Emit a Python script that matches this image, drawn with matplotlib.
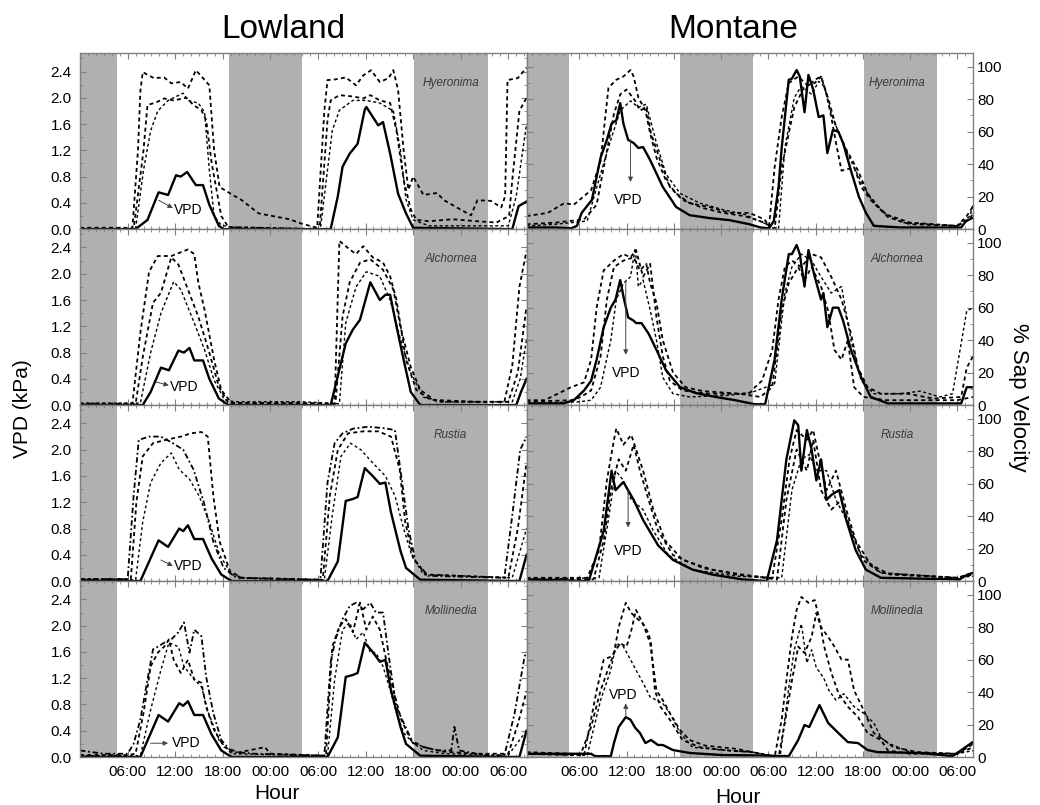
import numpy as np
import matplotlib
matplotlib.use("Agg")
import matplotlib.pyplot as plt
from matplotlib.ticker import MultipleLocator

plt.rcParams['font.family'] = ['Liberation Sans', 'DejaVu Sans']

# x in hours from start of record, y in kPa (lowland) or % (montane)
hour_ticks = [6, 12, 18, 24, 30, 36, 42, 48, 54]
hour_labels = ["06:00", "12:00", "18:00", "00:00", "06:00", "12:00", "18:00", "00:00", "06:00"]
nights = [(-1, 4.7), (18.8, 28.0), (42.1, 51.4)]
species = ["Hyeronima", "Alchornea", "Rustia", "Mollinedia"]

# ---------------- Lowland ----------------
low_hye_vpd = [(0,0),(7,0),(8.5,0.14),(9.9,0.56),(11.1,0.52),(12.1,0.82),(12.7,0.8),(13.5,0.87),(14.6,0.67),(15.5,0.67),(16.3,0.37),(17.5,0.05),(18.1,0),(31.6,0),(32.5,0.5),(33.1,0.95),(34.0,1.15),(35.0,1.3),(35.9,1.82),(36.1,1.86),(37.6,1.58),(38.2,1.63),(39.1,1.15),(40.1,0.54),(41.1,0.24),(42.0,0.02),(54.5,0),(55.3,0.35),(56.3,0.42)]
low_hye_s1 = [(0,0.02),(6.6,0.02),(7.3,1.2),(7.6,2.1),(7.9,2.39),(9.3,2.3),(10.6,2.31),(11.5,2.22),(12.7,2.24),(13.6,2.14),(14.6,2.42),(15.5,2.3),(16.3,2.19),(16.9,1.2),(17.6,0.64),(18.7,0.56),(20.4,0.44),(22.5,0.24),(26.4,0.15),(28.0,0.08),(29.9,0.02),(30.8,1.8),(31.2,2.27),(32.2,2.28),(33.5,2.31),(34.8,2.19),(35.7,2.34),(36.7,2.42),(37.8,2.24),(38.9,2.3),(39.5,2.42),(40.1,2.12),(40.8,1.2),(41.4,0.6),(42.0,0.8),(43.3,0.52),(45.0,0.55),(45.9,0.44),(47.5,0.33),(49.3,0.21),(50.1,0.44),(51.8,0.43),(53.1,0.33),(53.6,0.5),(53.9,2.27),(55.2,2.3),(56.3,2.46)]
low_hye_s2 = [(0,0.0),(6.75,0.0),(8.0,1.2),(8.5,1.89),(9.6,1.93),(10.6,1.99),(11.8,1.96),(13.4,2.0),(14.3,1.89),(15.3,1.81),(15.9,1.66),(16.6,1.0),(17.2,0.6),(17.8,0.2),(18.7,0.03),(30.2,0.0),(31.2,1.66),(31.6,1.96),(32.7,2.04),(34.4,2.02),(35.7,1.99),(36.6,2.04),(37.8,1.96),(39.1,1.92),(39.9,1.5),(40.8,0.75),(41.7,0.3),(42.4,0.14),(44,0.12),(47,0.15),(50,0.12),(52.5,0.1),(54.1,0.2),(54.5,0.75),(55.4,1.8),(56.3,2.0)]
low_hye_s3 = [(0,0.0),(7.0,0.0),(8.0,0.9),(8.9,1.5),(9.8,1.8),(11.1,1.96),(13.0,2.07),(13.6,1.96),(14.9,1.92),(15.7,1.78),(16.3,0.9),(16.9,0.2),(17.8,0.06),(19,0.03),(30.3,0.0),(31.2,0.9),(31.8,1.5),(32.7,1.81),(34.4,1.96),(36.1,1.96),(37.8,1.92),(39.5,1.8),(40.4,1.2),(41.1,0.45),(42.0,0.14),(44,0.05),(54.0,0.05),(55.0,0.5),(56.3,1.6)]

low_alc_vpd = [(0,0),(7.9,0),(8.9,0.2),(10.2,0.57),(11.2,0.53),(12.4,0.83),(13.1,0.8),(13.8,0.87),(14.4,0.68),(15.5,0.68),(16.3,0.4),(17.5,0.1),(18.7,0),(31.6,0),(33.5,0.94),(34.4,1.15),(35.3,1.3),(36.6,1.87),(37.8,1.6),(38.5,1.68),(39.1,1.68),(39.9,1.2),(40.8,0.69),(41.7,0.2),(42.9,0),(55.0,0),(55.6,0.2),(56.3,0.4)]
low_alc_s1 = [(0,0.02),(6.6,0.02),(7.6,1.1),(8.7,2.03),(9.8,2.27),(11.5,2.27),(13.6,2.37),(14.4,2.3),(14.9,1.87),(15.7,1.45),(16.9,0.69),(17.8,0.23),(19.1,0.03),(28,0.03),(32.1,0.02),(32.7,2.5),(34.0,2.37),(34.8,2.3),(35.7,2.42),(36.9,2.25),(38.2,2.17),(39.1,1.96),(39.9,1.6),(41.1,0.69),(42.4,0.23),(44.2,0.08),(50,0.05),(53.5,0.05),(54.5,0.6),(55.4,1.8),(56.3,2.35)]
low_alc_s2 = [(0,0.02),(7.0,0.02),(7.9,0.73),(9.2,1.56),(10.2,1.71),(11.5,2.25),(12.4,2.14),(13.6,1.76),(14.9,1.35),(16.2,0.84),(17.5,0.28),(18.7,0.03),(32.2,0.02),(33.1,1.35),(34.0,1.87),(35.3,2.17),(36.6,2.22),(38.2,2.06),(39.5,1.76),(40.4,1.19),(41.7,0.58),(42.9,0.23),(45.0,0.05),(54,0.05),(55.2,0.5),(56.3,1.5)]
low_alc_s3 = [(0,0.03),(7.6,0.03),(8.9,0.8),(10.2,1.4),(11.8,1.88),(12.7,1.76),(14.4,1.25),(15.7,0.84),(16.9,0.38),(18.2,0.08),(19.5,0.05),(28,0.05),(32.7,0.02),(33.5,1.25),(34.8,1.8),(36.1,2.03),(37.8,1.96),(39.1,1.6),(40.4,1.0),(41.7,0.49),(43.3,0.12),(46,0.05),(54.5,0.05),(55.5,0.4),(56.3,1.0)]

low_rus_vpd = [(0,0),(7.6,0),(9.9,0.62),(11.1,0.52),(12.5,0.8),(13.0,0.76),(13.6,0.85),(14.4,0.64),(15.5,0.64),(16.6,0.34),(17.8,0.1),(19.1,0),(31.2,0),(32.5,0.3),(33.5,1.22),(34.4,1.25),(35.0,1.28),(35.9,1.72),(36.9,1.6),(37.8,1.48),(38.5,1.5),(39.2,1.05),(40.4,0.46),(41.1,0.2),(42.9,0.02),(55.4,0),(56.3,0.4)]
low_rus_s1 = [(0,0.03),(6.0,0.03),(6.75,1.3),(7.4,2.15),(8.7,2.2),(10.2,2.2),(11.7,2.1),(13.0,2.0),(14.3,1.7),(15.6,1.2),(16.8,0.6),(18.1,0.2),(19.7,0.05),(30.3,0.02),(31.2,1.5),(32.1,2.1),(33.1,2.25),(34.4,2.32),(36.3,2.35),(38.2,2.33),(39.7,2.3),(40.5,1.6),(41.4,0.8),(42.3,0.3),(43.9,0.08),(53.5,0.05),(54.5,1.0),(55.5,2.0),(56.3,2.2)]
low_rus_s2 = [(0,0.03),(6.4,0.03),(7.1,1.2),(7.9,1.9),(9.2,2.1),(10.8,2.15),(12.7,2.2),(14.0,2.25),(15.3,2.27),(16.1,2.2),(16.8,1.3),(17.6,0.6),(18.9,0.15),(20.4,0.05),(30.6,0.02),(31.5,1.3),(32.5,2.0),(33.8,2.25),(35.7,2.28),(37.6,2.28),(39.2,2.2),(40.3,1.7),(41.0,0.9),(42.0,0.35),(43.6,0.1),(54,0.05),(55.2,0.8),(56.3,1.8)]
low_rus_s3 = [(0,0.02),(7.0,0.02),(7.9,0.9),(8.9,1.5),(10.2,1.8),(11.5,1.95),(12.5,1.7),(13.8,1.55),(15.0,1.3),(16.3,0.9),(17.6,0.4),(19.1,0.1),(21,0.04),(30.8,0.02),(31.8,1.0),(32.9,1.9),(34.1,2.1),(35.4,2.0),(36.9,1.8),(38.5,1.6),(39.7,1.3),(40.8,0.8),(41.8,0.4),(43.3,0.1),(54.5,0.05),(56.3,0.8)]

low_mol_vpd = [(0,0),(7.6,0),(9.9,0.64),(11.1,0.54),(12.5,0.82),(13.0,0.78),(13.6,0.85),(14.4,0.64),(15.5,0.64),(16.6,0.34),(17.8,0.1),(19.1,0),(31.2,0),(32.5,0.3),(33.5,1.22),(34.4,1.25),(35.0,1.28),(35.9,1.74),(36.9,1.6),(37.8,1.45),(38.5,1.48),(39.2,1.02),(40.4,0.46),(41.1,0.2),(42.9,0.02),(55.4,0),(56.3,0.4)]
low_mol_s1 = [(0,0.1),(3,0.05),(6.0,0.05),(6.75,0.2),(7.6,0.57),(8.5,1.18),(9.2,1.64),(9.8,1.68),(10.6,1.74),(11.5,1.79),(12.4,1.9),(13.1,2.05),(13.8,1.59),(14.4,1.94),(15.3,1.84),(15.9,1.22),(16.8,0.67),(17.8,0.26),(19.1,0.08),(22,0.05),(30.8,0.02),(31.6,1.44),(32.2,1.79),(33.1,2.1),(34.0,2.3),(34.8,2.35),(35.7,2.25),(36.6,2.35),(37.3,2.2),(38.2,2.2),(39.1,1.38),(39.9,0.76),(40.8,0.52),(42.0,0.21),(43.7,0.14),(45.0,0.1),(46.8,0.1),(47.2,0.46),(47.8,0.1),(51.3,0.02),(53.5,0.02),(54.8,0.67),(56.05,1.53),(56.3,1.6)]
low_mol_s2 = [(0,0.03),(6,0.03),(7.0,0.05),(8.0,0.67),(8.9,1.38),(9.8,1.59),(10.6,1.68),(11.2,1.79),(11.8,1.48),(12.7,1.28),(13.6,1.48),(14.4,1.18),(15.3,1.13),(15.9,0.76),(16.9,0.41),(18.2,0.15),(20,0.07),(23.3,0.15),(24,0.05),(31.0,0.02),(31.8,1.68),(32.7,1.99),(33.5,2.1),(34.4,1.9),(35.3,2.35),(36.1,1.94),(36.9,2.14),(37.8,1.94),(38.6,1.48),(39.5,1.02),(40.5,0.57),(41.7,0.26),(43.3,0.15),(46,0.08),(50,0.05),(54,0.05),(55.2,0.5),(56.3,1.0)]
low_mol_s3 = [(0,0.02),(7.6,0.02),(8.9,0.72),(10.2,1.33),(11.2,1.74),(12.4,1.68),(13.1,1.38),(14.4,1.18),(15.3,1.07),(16.2,0.67),(17.5,0.26),(19.1,0.05),(31.2,0.02),(32.1,1.18),(33.1,1.94),(34.0,2.05),(34.8,1.79),(35.7,1.9),(36.6,1.59),(37.3,1.59),(38.2,1.38),(39.1,1.02),(39.9,0.67),(40.8,0.37),(42.0,0.21),(43.3,0.1),(46,0.05),(54,0.03),(56.3,0.4)]

# ---------------- Montane ----------------
mon_hye_vpd = [(-0.7,1),(3,1),(5,0.5),(5.7,2),(6.3,10),(7.6,18),(8.7,44),(9.5,55),(10.1,65),(10.7,67),(11.2,77.6),(11.6,65),(12.2,55),(12.9,53),(13.5,50),(14.1,50.5),(15.0,42.5),(16.6,26),(18.3,13.6),(20.0,8.6),(22.5,6.8),(25.1,5.5),(27.6,3),(29,1),(30.1,0.5),(30.7,5),(31.3,26),(31.7,50),(32.6,92),(33.0,92.7),(33.6,98),(34.0,94),(34.6,72),(35.1,95),(35.7,86),(36.4,69),(37.0,70),(37.5,46.8),(38.2,61),(38.9,60),(39.5,53),(40.5,36),(41.5,20),(42.4,10),(43.4,2),(46.8,1),(54.5,1),(55.1,5),(56,7)]
mon_hye_s1 = [(-0.7,8),(2,10),(4.1,16),(5.3,15),(7.5,24),(8.7,42),(9.7,87),(10.7,92),(11.6,94),(12.5,98),(12.9,94),(13.5,81),(14.4,73),(15.0,59),(15.8,44),(17.0,30),(18.3,22),(20.0,16),(22.5,13.6),(25.1,10),(27.6,10),(29.5,6),(30.1,2),(30.8,38),(31.7,69),(32.6,90),(33.8,94),(35.1,88),(35.9,92),(36.7,94),(37.4,83),(38.0,69),(38.6,53),(39.3,36),(40.9,38),(41.8,26),(43.0,18),(45.2,7.4),(48,3),(54,2),(55.2,8),(56,14)]
mon_hye_s2 = [(-0.7,3),(3,4),(6.6,6),(8.2,15),(9.1,38),(10.4,71),(11.2,83),(12.0,86),(13.1,79),(13.7,73),(14.5,75),(15.1,59),(16.3,42),(17.5,26),(19.1,18),(21.7,13),(24.2,10),(27,8),(29.5,4),(30.8,0),(31.7,38),(32.6,59),(33.3,75),(34.6,88),(35.9,90),(36.7,94),(37.7,79),(38.6,63),(39.9,49),(41.4,36),(42.6,22),(44.3,12),(45.2,8.6),(48,4),(54,2),(55.6,6),(56,10)]
mon_hye_s3 = [(-0.7,2),(3,3),(7,5),(8.7,34),(10.0,55),(11.2,73),(12.5,79),(13.5,75),(14.5,77),(15.8,53),(17.0,34),(18.8,22),(21.3,16),(24.2,12),(27,9),(29.8,3),(31.3,0),(32.1,50),(33.3,81),(34.2,88),(35.5,83),(36.4,91),(37.1,88),(38.0,71),(39.3,55),(40.5,42),(42.1,26),(43.4,16),(44.7,10),(47,4),(54,2),(55.6,8),(56,15)]

mon_alc_vpd = [(-0.7,1),(4,1),(5.3,3),(6.6,9),(7.5,15),(8.2,28),(9.1,48),(10.0,60),(10.6,65),(11.2,77),(11.6,67),(12.2,54),(12.9,52),(13.2,50.5),(13.9,50.5),(14.8,44),(15.8,34),(17.0,21.5),(18.8,11),(20.8,7.4),(23.3,5),(25.8,3),(28.3,0.5),(29.6,0.5),(30.8,28),(31.7,65),(32.6,93),(33.0,93),(33.6,98.6),(34.0,93),(34.6,73),(35.1,95.5),(35.9,79),(36.7,65),(37.0,69),(37.5,48),(38.2,60),(38.9,60),(39.5,52),(40.5,34),(41.8,17),(43.0,5),(45.2,1),(54.5,1),(55.2,11),(56,11)]
mon_alc_s1 = [(-0.7,3),(1.6,3),(4.95,11),(6.6,14),(7.5,28),(8.2,60),(9.1,83),(10.4,89),(11.6,93),(12.5,91),(13.2,95.5),(14.1,79),(15.0,87),(15.8,54),(16.6,30),(17.5,15),(19.1,9),(22.5,7),(27.6,7),(28.3,11),(29.2,15),(30.5,34),(31.3,65),(32.1,85),(33.0,89),(34.2,85),(35.5,93),(36.7,91),(38.0,79),(39.3,65),(40.5,44),(41.4,23),(42.6,11),(44.3,7),(47.7,7),(51.0,4),(54.5,5),(55.2,23),(56,30)]
mon_alc_s2 = [(-0.7,2),(5,3),(6.2,5),(7.5,9),(8.7,30),(9.5,65),(10.4,85),(11.6,89),(12.9,91),(13.7,83),(14.5,87),(15.0,75),(15.8,63),(16.6,40),(17.9,20),(19.5,11),(21.7,8.6),(26.3,7),(29,5),(30.5,11),(31.7,58),(32.6,75),(33.8,85),(34.6,77),(35.5,85),(36.7,73),(37.6,58),(38.4,34),(39.3,28),(40.1,40),(40.9,11),(42.1,5),(45,3),(54,3),(56,5)]
mon_alc_s3 = [(-0.7,1),(6,2),(7.5,3),(8.7,11),(10.0,40),(10.7,65),(11.6,75),(12.5,79),(13.1,96.6),(13.5,73),(14.1,77),(15.0,58.5),(15.8,40),(16.6,17),(17.9,7),(20,5),(25,6),(28,8),(30.8,13),(32.1,69),(33.0,85),(34.2,93),(35.5,89),(36.7,79),(38.0,69),(39.3,73),(40.5,40),(41.8,15),(43.4,7),(46.8,7),(49.3,8.6),(51.8,5),(53.4,7),(55.2,58),(56,60)]

mon_rus_vpd = [(-0.7,1),(7.2,0),(9.1,31),(10.1,68),(10.6,56),(11.6,61),(12.9,50),(14.1,37.6),(16.0,22),(17.9,13),(20.4,7),(22.9,4),(26.7,1),(29.8,0),(31.1,25),(32.3,75),(33.3,99),(33.8,96),(34.2,68),(34.9,93),(35.5,81),(36.1,62),(36.7,75),(37.4,50),(38.0,53),(39.0,56),(39.9,37.6),(41.1,19),(42.4,7),(44.3,2),(54.3,1),(55.3,4),(56,5)]
mon_rus_s1 = [(-0.7,2),(7,2),(8.5,19),(9.5,62),(10.4,87),(10.7,94),(11.6,84),(12.6,90),(14.1,68),(15.4,44),(16.9,25),(19.1,13),(22.9,7),(26.7,4),(30,2),(30.5,2),(31.7,38),(32.7,75),(33.6,93),(34.9,87),(35.7,93),(36.5,75),(37.4,56),(38.6,68),(39.9,44),(41.1,25),(43.0,10),(45.5,4),(54,2),(56,4)]
mon_rus_s2 = [(-0.7,1),(7.8,1),(9.1,25),(10.0,56),(11.0,75),(11.9,68),(12.9,84),(13.7,68),(14.8,50),(16.0,31),(17.9,16),(21.7,8),(26,4),(31.1,1),(32.3,50),(33.6,81),(34.9,68),(35.7,87),(36.7,56),(38.0,44),(39.3,50),(40.5,31),(42.0,13),(44.3,5),(54,2),(56,5)]
mon_rus_s3 = [(-0.7,1),(8.5,2),(9.7,38),(10.6,68),(11.6,62),(12.6,50),(14.1,44),(15.4,31),(17.3,16),(20.4,7),(26,3),(31.7,2),(33.0,56),(34.2,75),(35.2,78),(36.1,68),(37.4,68),(38.6,50),(40.3,34),(41.8,16),(44.3,5),(54,2),(56,3)]

mon_mol_vpd = [(-0.7,2),(7.5,2),(8,0.5),(10.0,0.5),(10.4,8.6),(11.0,18.5),(11.9,24.6),(12.5,23),(13.1,18),(13.7,14.8),(14.4,8.6),(15.1,10.5),(16.0,7.4),(16.6,7.4),(17.9,4.3),(20.0,2.5),(24.2,1.2),(28.3,1),(32.6,0.5),(33.8,10.5),(34.6,19.7),(35.2,18.5),(36.5,32),(37.6,21),(38.9,14.8),(40.1,9.2),(41.4,8.6),(42.6,4.3),(43.9,3),(49.3,2.5),(53.4,0.5),(55.8,8.6),(56,9)]
mon_mol_s1 = [(-0.7,3),(5,2),(6.2,2),(7.5,18.5),(8.7,41),(9.5,52),(10.4,64),(11.0,80),(11.9,95),(12.6,88.7),(13.2,86),(14.1,82),(14.8,76),(15.1,70),(15.6,41),(16.3,31),(17.5,23),(19.1,10.5),(21.3,6),(25,4),(28,3),(30.8,0),(31.7,23),(32.3,47),(33.0,74),(33.6,90.6),(34.2,98.6),(35.1,95),(35.9,96.7),(36.5,84.4),(37.1,68),(38.0,52),(38.9,39.4),(40.1,31),(41.4,24.6),(42.6,14.8),(44.3,10.5),(45.2,4),(48,2),(54,2),(56,8)]
mon_mol_s2 = [(-0.7,2),(6.6,1),(8.2,41),(9.1,60),(10.1,62),(11.2,70),(12.0,68),(12.6,78),(13.2,90.6),(14.1,82),(15.0,70),(15.8,41),(16.6,35),(17.5,27),(18.8,16.6),(20.0,10.5),(22,7),(26,5),(28,3),(31.3,0),(32.1,21),(33.0,47),(33.8,68),(34.6,64),(35.5,74),(36.1,88.7),(36.7,80),(37.6,74),(38.4,68),(39.3,60),(40.1,60),(40.9,41),(42.1,29),(43.4,14.8),(44.7,10.5),(45.9,6),(49,3),(54,2),(56,6)]
mon_mol_s3 = [(-0.7,2),(7,1),(8.7,35),(10.0,53.6),(10.7,70),(11.6,68),(12.5,60),(13.2,53.6),(14.1,45.6),(15.0,37),(15.8,35),(16.6,33),(17.5,27),(18.8,14.8),(20.4,6),(24.2,4.3),(27.9,3),(31.5,0),(32.6,43),(33.3,66),(34.2,82),(34.9,58),(35.5,66),(36.1,55),(37.0,49),(37.7,41),(38.6,35),(39.6,39),(40.9,31),(42.1,27),(43.4,21),(44.3,12),(45.2,8.6),(48,3),(54,2),(56,4)]

# VPD annotation: (text x, text y, arrow start x, y, arrow end x, y)
low_vpd_notes = [(13.6,0.29,9.9,0.44,11.7,0.32), (13.1,0.27,9.6,0.35,11.2,0.30),
                 (13.6,0.23,10.2,0.32,11.7,0.23), (13.4,0.21,8.9,0.21,11.1,0.21)]
mon_vpd_notes = [(12.2,18,12.5,55,12.5,29), (11.9,19.7,11.9,77,11.9,31),
                 (12.2,18.5,12.2,56,12.2,33), (11.6,38,11.9,24.6,11.9,33)]

lowland = [(low_hye_vpd, low_hye_s1, low_hye_s2, low_hye_s3),
           (low_alc_vpd, low_alc_s1, low_alc_s2, low_alc_s3),
           (low_rus_vpd, low_rus_s1, low_rus_s2, low_rus_s3),
           (low_mol_vpd, low_mol_s1, low_mol_s2, low_mol_s3)]
montane = [(mon_hye_vpd, mon_hye_s1, mon_hye_s2, mon_hye_s3),
           (mon_alc_vpd, mon_alc_s1, mon_alc_s2, mon_alc_s3),
           (mon_rus_vpd, mon_rus_s1, mon_rus_s2, mon_rus_s3),
           (mon_mol_vpd, mon_mol_s1, mon_mol_s2, mon_mol_s3)]

band = '#b0b0b0'
frame = '#808080'
short_dash = (0, (2.2, 1.8))
dash_dot = (0, (3, 1.5, 1, 1.5))

fig = plt.figure(figsize=(10.4, 8.05), dpi=100)
gs = fig.add_gridspec(4, 2, left=0.077, right=0.9356, top=0.934, bottom=0.0596,
                      hspace=0, wspace=0)


def xy(pts):
    a = np.array(pts, float)
    return a[:, 0], a[:, 1]


for col in range(2):
    data = lowland if col == 0 else montane
    notes = low_vpd_notes if col == 0 else mon_vpd_notes
    for row in range(4):
        ax = fig.add_subplot(gs[row, col])
        for a, b in nights:
            ax.axvspan(a, b, color=band, lw=0, zorder=0)
        vpd, s1, s2, s3 = data[row]
        styles = [short_dash, short_dash, short_dash]
        if col == 0 and row >= 2:
            styles = [dash_dot, short_dash, (0, (2, 2))]
        for s, ls, lw in zip((s1, s2, s3), styles, (1.3, 1.3, 1.0)):
            x, y = xy(s)
            ax.plot(x, y, color='black', ls=ls, lw=lw, zorder=2)
        x, y = xy(vpd)
        ax.plot(x, y, color='black', lw=1.7, zorder=3)

        tx, ty, ax0, ay0, ax1, ay1 = notes[row]
        ax.annotate('', xy=(ax1, ay1), xytext=(ax0, ay0),
                    arrowprops=dict(arrowstyle='-|>', color='#444444', lw=0.7,
                                    mutation_scale=7, shrinkA=0, shrinkB=0), zorder=4)
        ax.text(tx, ty, 'VPD', fontsize=10, ha='center', va='center', zorder=4)
        ax.text(0.83, 0.83, species[row], transform=ax.transAxes, fontsize=8.5,
                style='italic', color='#3a3a3a', ha='center', va='center', zorder=4)

        if col == 0:
            ax.set_xlim(0, 56.3)
            ax.set_ylim(0, 2.68)
            ax.yaxis.set_major_locator(MultipleLocator(0.4))
            ax.yaxis.set_minor_locator(MultipleLocator(0.2))
            ax.yaxis.set_major_formatter(plt.FuncFormatter(lambda v, p: f"{v:.1f}"))
            ax.tick_params(axis='y', which='both', left=True, right=True,
                           labelleft=True, labelright=False)
        else:
            ax.set_xlim(-0.7, 56)
            ax.set_ylim(0, 108.4)
            ax.yaxis.set_major_locator(MultipleLocator(20))
            ax.yaxis.set_minor_locator(MultipleLocator(10))
            ax.tick_params(axis='y', which='both', left=True, right=True,
                           labelleft=False, labelright=True)
        ax.set_xticks(hour_ticks)
        ax.xaxis.set_minor_locator(MultipleLocator(1))
        if row == 3:
            ax.set_xticklabels(hour_labels)
        else:
            ax.set_xticklabels([])
        ax.tick_params(axis='x', which='both', top=True, bottom=True)
        ax.tick_params(which='major', direction='in', length=4, width=0.8,
                       color=frame, labelsize=11, pad=6)
        ax.tick_params(which='minor', direction='in', length=2.5, width=0.6,
                       color=frame)
        if col == 1:
            ax.tick_params(axis='y', pad=3)
        for sp in ax.spines.values():
            sp.set_color(frame)
            sp.set_linewidth(1.0)
            sp.set_zorder(5)

fig.text(0.272, 0.963, 'Lowland', fontsize=24, ha='center', va='center')
fig.text(0.705, 0.963, 'Montane', fontsize=24, ha='center', va='center')
fig.text(0.266, 0.002, 'Hour', fontsize=15, ha='center', va='bottom')
fig.text(0.710, -0.002, 'Hour', fontsize=15, ha='center', va='bottom')
fig.text(0.022, 0.492, 'VPD (kPa)', fontsize=15, rotation=90, ha='center', va='center')
fig.text(0.979, 0.507, '% Sap Velocity', fontsize=16, rotation=270, ha='center', va='center')

fig.savefig('out.png', dpi=100)
